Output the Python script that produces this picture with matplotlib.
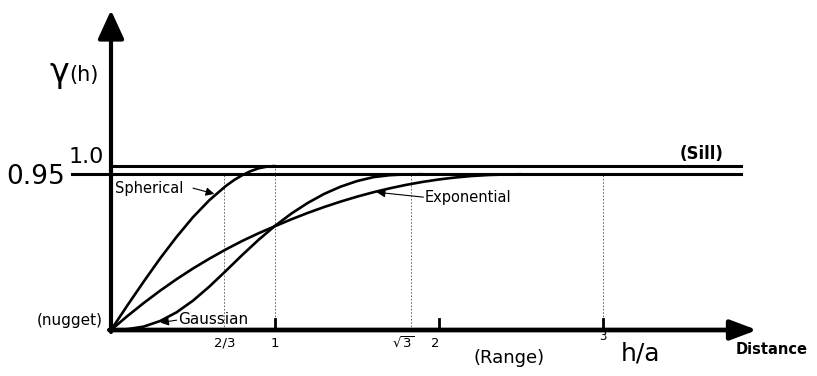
import matplotlib
matplotlib.use('Agg')
import matplotlib.pyplot as plt
import numpy as np

# curves (h/a , gamma)
sph_x = [0, 0.1, 0.2, 0.3, 0.4, 0.5, 0.6, 0.7, 0.75, 0.8, 0.85, 0.9, 0.95, 1.0]
sph_y = [0, 0.15, 0.296, 0.437, 0.568, 0.688, 0.792, 0.878, 0.914, 0.944, 0.968, 0.986, 0.996, 1.0]

exp_x = [0, 0.1, 0.2, 0.3, 0.4, 0.5, 0.6, 0.7, 0.8, 0.9, 1.0, 1.1, 1.2, 1.3, 1.4, 1.5,
         1.6, 1.7, 1.8, 1.9, 2.0, 2.1, 2.2, 2.3, 2.4, 2.5]
exp_y = [0, 0.085, 0.165, 0.24, 0.31, 0.375, 0.435, 0.491, 0.543, 0.59, 0.633, 0.675, 0.714,
         0.75, 0.783, 0.813, 0.84, 0.864, 0.885, 0.903, 0.918, 0.93, 0.939, 0.945, 0.948, 0.95]

gau_x = [0, 0.1, 0.2, 0.3, 0.4, 0.5, 0.6, 0.7, 0.8, 0.9, 1.0, 1.1, 1.2, 1.3, 1.4, 1.5,
         1.6, 1.7, 1.8, 1.9]
gau_y = [0, 0.005, 0.021, 0.055, 0.108, 0.179, 0.265, 0.36, 0.457, 0.55, 0.635, 0.71,
         0.775, 0.83, 0.874, 0.908, 0.932, 0.944, 0.949, 0.95]

sill = 1.0
practical = 0.95
sill_end = 3.84
guide_x = [0.69, 1.0, 1.83, 3.0]          # dotted verticals
guide_top = [0.95, 1.0, 0.95, 0.95]
tick_x = [1.0, 2.0, 3.0]
tick_lab = [(0.695, '2/3'), (1.0, '1'), (1.78, r'$\sqrt{3}$'), (1.98, '2')]

fig = plt.figure(figsize=(8.17, 3.76), dpi=100)
ax = fig.add_axes([0, 0, 1, 1])
ax.set_xlim(-111/164., 706/164.)
ax.set_ylim(-46/164., 330/164.)
ax.axis('off')

# dotted guides
for gx, gt in zip(guide_x, guide_top):
    ax.plot([gx, gx], [0, gt], color='#555555', lw=0.6, ls=(0, (2, 2)), zorder=1)

# sill lines
ax.plot([0, sill_end], [sill, sill], color='k', lw=2.2, zorder=2)
ax.plot([-0.24, sill_end], [practical, practical], color='k', lw=2.2, zorder=2)

# models
for cx, cy in [(sph_x, sph_y), (exp_x, exp_y), (gau_x, gau_y)]:
    ax.plot(cx, cy, color='k', lw=1.9, solid_capstyle='round',
            solid_joinstyle='round', zorder=3)

# axes with arrows
ax.annotate('', xy=(0, 1.95), xytext=(0, -0.012),
            arrowprops=dict(arrowstyle='-|>,head_length=1.75,head_width=0.8',
                            mutation_scale=10, lw=3, color='k', shrinkA=0, shrinkB=0))
ax.annotate('', xy=(3.94, 0), xytext=(-0.01, 0),
            arrowprops=dict(arrowstyle='-|>,head_length=1.6,head_width=0.6',
                            mutation_scale=10, lw=3.4, color='k', shrinkA=0, shrinkB=0))
for tx in tick_x:
    ax.plot([tx, tx], [0, 0.065], color='k', lw=2, zorder=4)

# labels
ax.text(-0.315, 1.57, 'γ', fontsize=24, ha='center', va='center')
ax.text(-0.165, 1.555, '(h)', fontsize=15, ha='center', va='center')
ax.text(-0.152, 1.055, '1.0', fontsize=16, ha='center', va='center')
ax.text(-0.457, 0.935, '0.95', fontsize=19, ha='center', va='center')
ax.text(3.60, 1.073, '(Sill)', fontsize=12, ha='center', va='center', weight='bold')
ax.text(-0.05, 0.06, '(nugget)', fontsize=11, ha='right', va='center')

for lx, lt in tick_lab:
    ax.text(lx, -0.08, lt, fontsize=9.5, ha='center', va='center')
ax.text(3.0, -0.04, '3', fontsize=8.5, ha='center', va='center')
ax.text(2.43, -0.17, '(Range)', fontsize=13, ha='center', va='center')
ax.text(3.23, -0.146, 'h/a', fontsize=18, ha='center', va='center')
ax.text(4.03, -0.116, 'Distance', fontsize=10.5, ha='center', va='center', weight='bold')

# model names with leader arrows
arr = dict(arrowstyle='-|>,head_length=0.5,head_width=0.25', mutation_scale=10,
           lw=0.8, color='k', shrinkA=0, shrinkB=0)
ax.text(0.024, 0.865, 'Spherical', fontsize=10.5, ha='left', va='center')
ax.annotate('', xy=(0.63, 0.83), xytext=(0.50, 0.865), arrowprops=arr)
ax.text(1.915, 0.81, 'Exponential', fontsize=10.5, ha='left', va='center')
ax.annotate('', xy=(1.62, 0.84), xytext=(1.905, 0.81), arrowprops=arr)
ax.text(0.41, 0.065, 'Gaussian', fontsize=11, ha='left', va='center')
ax.annotate('', xy=(0.30, 0.045), xytext=(0.40, 0.06), arrowprops=arr)

plt.savefig('out.png', dpi=100)
plt.close()
